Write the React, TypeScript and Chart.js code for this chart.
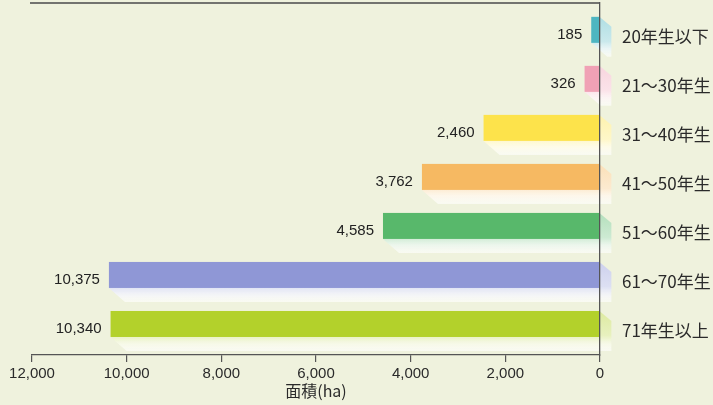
import React, { useEffect, useRef } from 'react';
import { Chart, registerables } from 'chart.js';

Chart.register(...registerables);

const categories = ['20年生以下', '21～30年生', '31～40年生', '41～50年生', '51～60年生', '61～70年生', '71年生以上'];
const areaValues = [185, 326, 2460, 3762, 4585, 10375, 10340];
const barColors = ['#4db6c1', '#f0a1b5', '#fde34b', '#f6b962', '#58b86b', '#8f97d6', '#b3d12b'];
const xTickValues = [0, 2000, 4000, 6000, 8000, 10000, 12000];
const axisTitle = '面積(ha)';

const latinFont = '"Liberation Sans", Arial, sans-serif';
const cjkFont = '"Noto Sans CJK JP", "Noto Sans", sans-serif';

function mix(hex: string, t: number, alpha = 1): string {
  const n = parseInt(hex.slice(1), 16);
  const r = (n >> 16) & 255;
  const g = (n >> 8) & 255;
  const b = n & 255;
  const m = (c: number) => Math.round(c * t + 255 * (1 - t));
  return `rgba(${m(r)},${m(g)},${m(b)},${alpha})`;
}

const bar3dPlugin = {
  id: 'bar3d',
  beforeDatasetsDraw(chart: any) {
    const { ctx, chartArea } = chart;
    ctx.save();
    ctx.strokeStyle = '#4a4a4a';
    ctx.lineWidth = 1.5;
    ctx.beginPath();
    ctx.moveTo(chartArea.left - 2, chartArea.top);
    ctx.lineTo(chartArea.right, chartArea.top);
    ctx.stroke();
    ctx.restore();
  },
  afterDatasetsDraw(chart: any) {
    const ctx = chart.ctx;
    const meta = chart.getDatasetMeta(0);
    meta.data.forEach((el: any, i: number) => {
      const { x, y, base, height } = el.getProps(['x', 'y', 'base', 'height'], true);
      const color = barColors[i];
      const left = Math.min(x, base);
      const right = Math.max(x, base);
      const top = y - height / 2;
      const bottom = y + height / 2;
      const faceBottom = top + height * 0.65;
      const dx = 12;
      const dxl = 16;
      ctx.save();
      const g = ctx.createLinearGradient(0, top, 0, bottom);
      g.addColorStop(0, mix(color, 0.45));
      g.addColorStop(0.62, mix(color, 0.3));
      g.addColorStop(0.8, mix(color, 0.12, 0.9));
      g.addColorStop(1, 'rgba(255,255,255,0.6)');
      ctx.fillStyle = g;
      ctx.beginPath();
      ctx.moveTo(right, top);
      ctx.lineTo(right + dx, top + 10);
      ctx.lineTo(right + dx, bottom);
      ctx.lineTo(left + dxl, bottom);
      ctx.lineTo(left, faceBottom);
      ctx.closePath();
      ctx.fill();
      ctx.fillStyle = color;
      ctx.fillRect(left, top, right - left, faceBottom - top);
      ctx.fillStyle = '#222';
      ctx.font = `15px ${latinFont}`;
      ctx.textAlign = 'right';
      ctx.textBaseline = 'middle';
      ctx.fillText(areaValues[i].toLocaleString('en-US'), left - 9, y - 2);
      ctx.restore();
    });
  },
};

export default function App() {
  const canvasRef = useRef<HTMLCanvasElement | null>(null);

  useEffect(() => {
    document.body.style.margin = '0';
    const canvas = canvasRef.current;
    if (!canvas) return;
    const chart = new Chart(canvas, {
      type: 'bar',
      data: {
        datasets: [
          {
            data: areaValues.map((v, i) => ({ x: v, y: i })) as any,
            backgroundColor: 'rgba(0,0,0,0)',
            borderWidth: 0,
            barThickness: 40,
          },
        ],
      },
      options: {
        indexAxis: 'y',
        animation: false,
        responsive: true,
        maintainAspectRatio: false,
        layout: { padding: { left: 32, top: 3, right: 0, bottom: 0 } },
        plugins: { legend: { display: false }, tooltip: { enabled: false } },
        scales: {
          x: {
            type: 'linear',
            reverse: true,
            min: 0,
            max: 12000,
            afterBuildTicks: (s: any) => {
              s.ticks = xTickValues.map((v) => ({ value: v }));
            },
            ticks: {
              callback: (v: any) => Number(v).toLocaleString('en-US'),
              font: { size: 15, family: latinFont },
              color: '#2a2a2a',
              padding: 3,
              maxRotation: 0,
              autoSkip: false,
            },
            grid: { drawOnChartArea: false, tickLength: 7, color: '#555', lineWidth: 1.2 },
            border: { color: '#555', width: 1.3 },
            title: {
              display: true,
              text: axisTitle,
              font: { size: 16, family: cjkFont },
              color: '#2a2a2a',
              padding: { top: 2, bottom: 4 },
            },
            afterFit: (s: any) => {
              s.height = 50;
            },
          } as any,
          y: {
            type: 'linear',
            position: 'right',
            reverse: true,
            offset: false,
            min: -0.69,
            max: 6.49,
            afterBuildTicks: (s: any) => {
              s.ticks = categories.map((_, i) => ({ value: i }));
            },
            ticks: {
              callback: (_v: any, idx: number) => categories[idx],
              font: { size: 17, family: cjkFont },
              color: '#2a2a2a',
              padding: 22,
              autoSkip: false,
            },
            grid: { display: false, drawTicks: false, offset: false },
            border: { display: true, color: '#555', width: 1.3, z: 1 },
            afterFit: (s: any) => {
              s.width = 113;
              s.paddingTop = 0;
              s.paddingBottom = 0;
            },
          } as any,
        },
      },
      plugins: [bar3dPlugin],
    });
    return () => chart.destroy();
  }, []);

  return (
    <div style={{ position: 'fixed', left: 0, top: 0, width: 713, height: 405, background: '#eff2dd', overflow: 'hidden' }}>
      <canvas ref={canvasRef} />
    </div>
  );
}
